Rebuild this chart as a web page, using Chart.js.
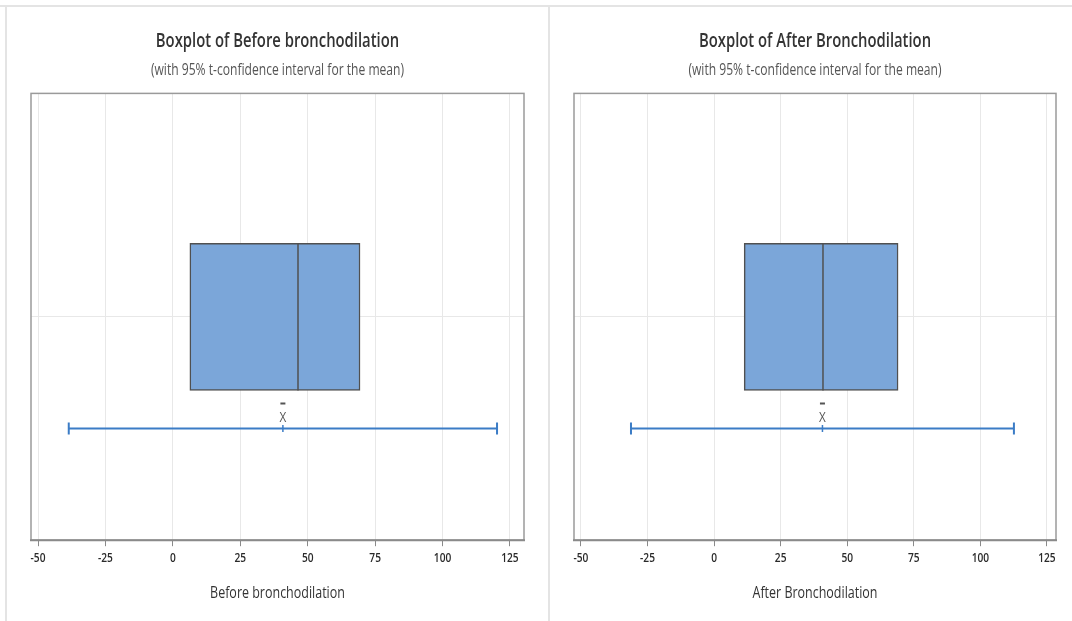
<!DOCTYPE html>
<html>
<head>
<meta charset="utf-8">
<script src="https://cdn.jsdelivr.net/npm/chart.js@4.4.1/dist/chart.umd.min.js"></script>
<style>
  html, body { margin: 0; padding: 0; background: #ffffff; }
  body { width: 1072px; height: 621px; position: relative; overflow: hidden; }
  .panel { position: absolute; top: 0; height: 621px; }
  .rule { position: absolute; background: #e4e4e4; }
</style>
</head>
<body>
<div class="panel" style="left:0;width:549px;"><canvas id="c0"></canvas></div>
<div class="panel" style="left:551px;width:521px;"><canvas id="c1"></canvas></div>
<div class="rule" style="left:0;top:5px;width:1072px;height:2px;"></div>
<div class="rule" style="left:5px;top:5px;width:2px;height:616px;"></div>
<div class="rule" style="left:548px;top:5px;width:2px;height:616px;"></div>
<script>
// ---- data ----
const variables   = ['Before bronchodilation', 'After Bronchodilation'];
const titles      = ['Boxplot of Before bronchodilation', 'Boxplot of After Bronchodilation'];
const subtitle    = '(with 95% t-confidence interval for the mean)';
const q1Values     = [6.3, 11.3];
const medianValues = [46.4, 40.9];
const q3Values     = [69.4, 69.1];
const meanValues   = [40.8, 40.7];
const ciLowValues  = [-38.6, -31.2];
const ciHighValues = [120.2, 112.6];
const tickValues   = [-50, -25, 0, 25, 50, 75, 100, 125];
const axisMin      = [-52.6, -52.6];
const axisMax      = [130.2, 128.4];

// ---- layout / style constants ----
const FONT = "'Open Sans', 'Noto Sans', sans-serif";
const TEXT_SQUEEZE = 0.78;
const BOX_Y = 2, CI_Y = 1, BOX_HALF = 0.66;
const padLR = [{left: 31, right: 25}, {left: 23, right: 16}];
const BOX_FILL = '#7ba6d9', BOX_EDGE = '#505050', CI_COLOR = '#3b7cc6';

// Render all canvas text horizontally condensed, like the reference's narrow UI font
const squeezePlugin = {
  id: 'squeeze',
  beforeInit(chart) {
    const ctx = chart.ctx;
    const orig = ctx.fillText.bind(ctx);
    ctx.fillText = function (text, x, y, maxWidth) {
      ctx.save();
      ctx.translate(x, y);
      ctx.scale(TEXT_SQUEEZE, 1);
      if (maxWidth !== undefined) orig(text, 0, 0, maxWidth / TEXT_SQUEEZE);
      else orig(text, 0, 0);
      ctx.restore();
    };
  }
};

const framePlugin = {
  id: 'frame',
  afterDraw(chart) {
    const {ctx, chartArea: a} = chart;
    ctx.save();
    ctx.strokeStyle = '#9a9a9a';
    ctx.lineWidth = 1.5;
    ctx.strokeRect(a.left, a.top, a.right - a.left, a.bottom - a.top);
    ctx.beginPath();
    ctx.strokeStyle = '#8a8a8a';
    ctx.lineWidth = 2;
    ctx.moveTo(a.left - 1, a.bottom);
    ctx.lineTo(a.right + 1, a.bottom);
    ctx.stroke();
    ctx.restore();
  }
};

const meanLabelPlugin = {
  id: 'meanLabel',
  afterDatasetsDraw(chart) {
    const i = chart.options.plugins.meanLabel.index;
    const xs = chart.scales.x, ys = chart.scales.y;
    const px = xs.getPixelForValue(meanValues[i]);
    const py = ys.getPixelForValue(CI_Y);
    const ctx = chart.ctx;
    ctx.save();
    ctx.fillStyle = '#555555';
    ctx.font = '15px ' + FONT;
    ctx.textAlign = 'center';
    ctx.textBaseline = 'middle';
    ctx.fillText('X', px, py - 10.5);
    ctx.fillRect(px - 2.5, py - 26, 5, 2);
    ctx.restore();
  }
};

function makeChart(i) {
  const ctx = document.getElementById('c' + i);
  return new Chart(ctx, {
    type: 'bar',
    data: {
      datasets: [
        {
          type: 'bar',
          indexAxis: 'y',
          data: [{x: [q1Values[i], q3Values[i]], y: BOX_Y}],
          backgroundColor: BOX_FILL,
          borderColor: BOX_EDGE,
          borderWidth: 1.5,
          borderSkipped: false,
          barThickness: 147,
          order: 3
        },
        {
          type: 'line',
          data: [{x: medianValues[i], y: BOX_Y - BOX_HALF}, {x: medianValues[i], y: BOX_Y + BOX_HALF}],
          borderColor: BOX_EDGE,
          borderWidth: 1.5,
          pointRadius: 0,
          order: 2
        },
        {
          type: 'line',
          data: [{x: ciLowValues[i], y: CI_Y}, {x: ciHighValues[i], y: CI_Y}],
          borderColor: CI_COLOR,
          borderWidth: 2,
          pointStyle: 'line',
          pointRotation: 90,
          pointRadius: 6,
          pointBorderWidth: 2,
          pointBorderColor: CI_COLOR,
          order: 1
        },
        {
          type: 'line',
          data: [{x: meanValues[i], y: CI_Y}],
          borderColor: CI_COLOR,
          pointStyle: 'line',
          pointRotation: 90,
          pointRadius: 3.5,
          pointBorderWidth: 1.5,
          pointBorderColor: CI_COLOR,
          showLine: false,
          order: 0
        }
      ]
    },
    options: {
      responsive: false,
      animation: false,
      maintainAspectRatio: false,
      layout: { padding: { left: padLR[i].left, right: padLR[i].right, top: 0, bottom: 18 } },
      plugins: {
        legend: { display: false },
        tooltip: { enabled: false },
        meanLabel: { index: i },
        title: {
          display: true,
          text: titles[i],
          color: '#333333',
          font: { family: FONT, size: 19, weight: '600', lineHeight: 1.2 },
          padding: { top: 30, bottom: 8 }
        },
        subtitle: {
          display: true,
          text: subtitle,
          color: '#555555',
          font: { family: FONT, size: 15.5, weight: 'normal', lineHeight: 1.2 },
          padding: { top: 0, bottom: 14 }
        }
      },
      scales: {
        x: {
          type: 'linear',
          offset: false,
          min: axisMin[i],
          max: axisMax[i],
          afterBuildTicks(scale) { scale.ticks = tickValues.map(v => ({value: v})); },
          ticks: {
            color: '#2a2a2a',
            font: { family: FONT, size: 13, weight: '600', lineHeight: 1.2 },
            padding: 4,
            maxRotation: 0,
            callback: v => String(v)
          },
          grid: { offset: false, color: '#e8e8e8', lineWidth: 1, tickColor: '#8a8a8a', tickLength: 6 },
          border: { display: false },
          title: {
            display: true,
            text: variables[i],
            color: '#333333',
            font: { family: FONT, size: 16, lineHeight: 1.2 },
            padding: { top: 14, bottom: 0 }
          }
        },
        y: {
          type: 'linear',
          offset: false,
          min: 0,
          max: 4,
          afterBuildTicks(scale) { scale.ticks = [{value: 0}, {value: BOX_Y}, {value: 4}]; },
          ticks: { display: false },
          grid: {
            offset: false,
            drawTicks: false,
            color: c => (c.tick && c.tick.value === BOX_Y) ? '#e8e8e8' : 'rgba(0,0,0,0)'
          },
          border: { display: false }
        }
      }
    },
    plugins: [squeezePlugin, framePlugin, meanLabelPlugin]
  });
}

document.getElementById('c0').width = 549;
document.getElementById('c0').height = 621;
document.getElementById('c1').width = 521;
document.getElementById('c1').height = 621;
makeChart(0);
makeChart(1);
</script>
</body>
</html>
